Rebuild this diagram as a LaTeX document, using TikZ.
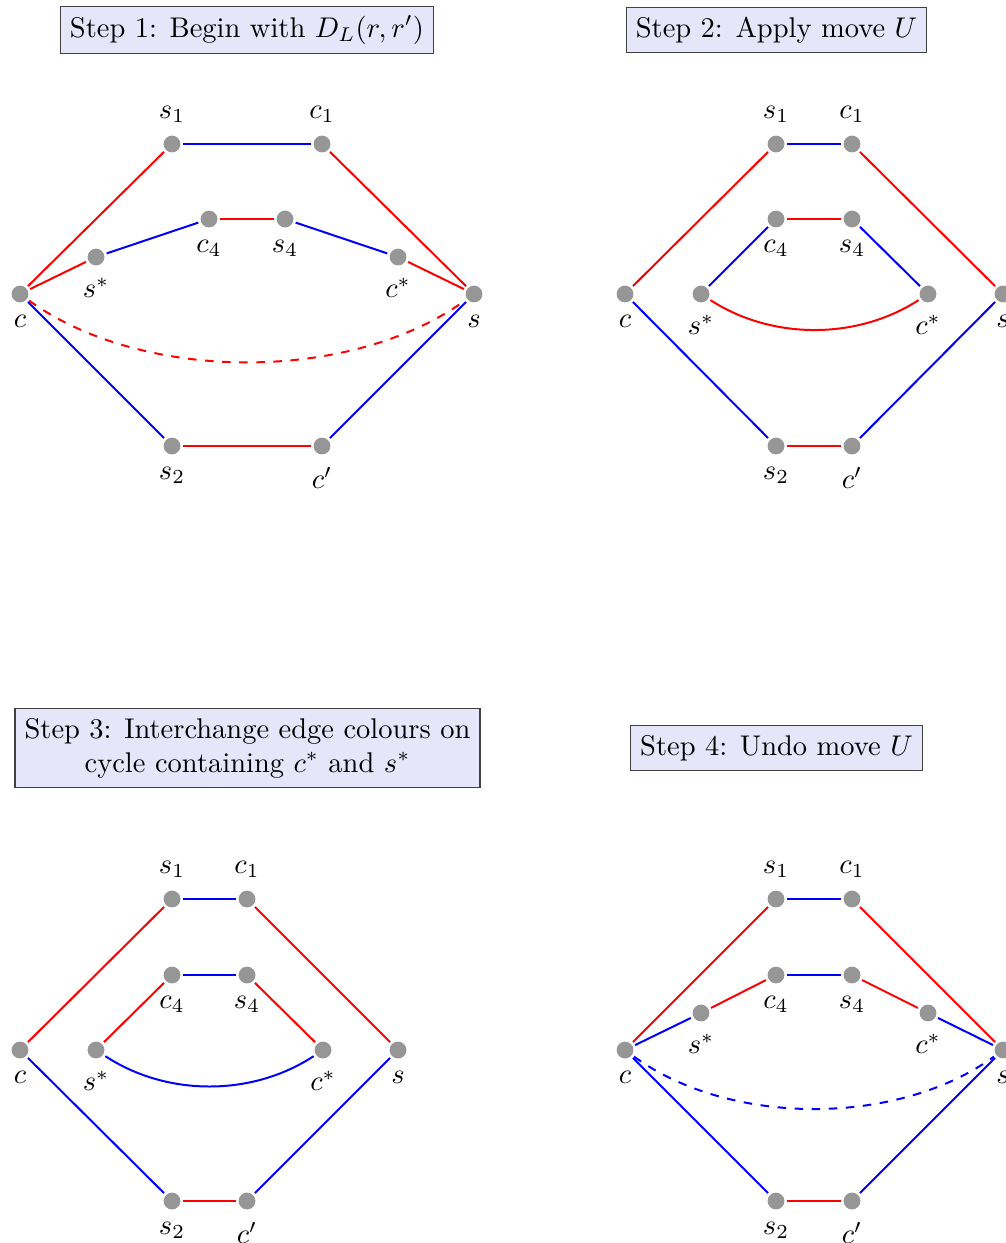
\documentclass[tikz,border=0pt]{standalone}
\usepackage{tikz}
\definecolor{nodegray}{RGB}{150,150,150}
\definecolor{titlefill}{RGB}{230,230,250}
\tikzset{
  dot/.style={circle, fill=nodegray, minimum size=5.9pt, inner sep=0pt, outer sep=1pt},
  re/.style={red, line width=0.7pt},
  bl/.style={blue, line width=0.7pt},
  titlebox/.style={draw=black!75, fill=titlefill, line width=0.5pt, align=center, font=\normalsize}
}
\begin{document}
\begin{tikzpicture}[x=0.351pt, y=-0.351pt]
\useasboundingbox (0,0) rectangle (1005,1243);

% ---------- Step 1 ----------
\node[titlebox] (t1) at (247,30) {Step 1: Begin with $D_L(r,r')$};
\node[dot, label=below:$c$]     (a-c)  at (20,294) {};
\node[dot, label=below:$s$]     (a-s)  at (474,294) {};
\node[dot, label=above:$s_1$]   (a-s1) at (172,144) {};
\node[dot, label=above:$c_1$]   (a-c1) at (322,144) {};
\node[dot, label=below:$s_2$]   (a-s2) at (172,446) {};
\node[dot, label=below:$c'$]    (a-cp) at (322,446) {};
\node[dot, label=below:$s^*$]   (a-ss) at (96,257) {};
\node[dot, label=below:$c_4$]   (a-c4) at (209,219) {};
\node[dot, label=below:$s_4$]   (a-s4) at (285,219) {};
\node[dot, label=below:$c^*$]   (a-cs) at (398,257) {};
\draw[re] (a-c) -- (a-s1);
\draw[bl] (a-s1) -- (a-c1);
\draw[re] (a-c1) -- (a-s);
\draw[re] (a-c) -- (a-ss);
\draw[bl] (a-ss) -- (a-c4);
\draw[re] (a-c4) -- (a-s4);
\draw[bl] (a-s4) -- (a-cs);
\draw[re] (a-cs) -- (a-s);
\draw[re, dashed] (a-c) .. controls (143,383) and (351,383) .. (a-s);
\draw[bl] (a-c) -- (a-s2);
\draw[re] (a-s2) -- (a-cp);
\draw[bl] (a-cp) -- (a-s);

% ---------- Step 2 ----------
\node[titlebox] (t2) at (776.5,30) {Step 2: Apply move $U$};
\node[dot, label=below:$c$]     (b-c)  at (625,294) {};
\node[dot, label=below:$s$]     (b-s)  at (1003,294) {};
\node[dot, label=above:$s_1$]   (b-s1) at (776,144) {};
\node[dot, label=above:$c_1$]   (b-c1) at (852,144) {};
\node[dot, label=below:$s_2$]   (b-s2) at (776,446) {};
\node[dot, label=below:$c'$]    (b-cp) at (852,446) {};
\node[dot, label=below:$s^*$]   (b-ss) at (701,294) {};
\node[dot, label=below:$c_4$]   (b-c4) at (776,219) {};
\node[dot, label=below:$s_4$]   (b-s4) at (852,219) {};
\node[dot, label=below:$c^*$]   (b-cs) at (928,294) {};
\draw[re] (b-c) -- (b-s1);
\draw[bl] (b-s1) -- (b-c1);
\draw[re] (b-c1) -- (b-s);
\draw[bl] (b-ss) -- (b-c4);
\draw[re] (b-c4) -- (b-s4);
\draw[bl] (b-s4) -- (b-cs);
\draw[re] (b-ss) .. controls (772,340) and (857,340) .. (b-cs);
\draw[bl] (b-c) -- (b-s2);
\draw[re] (b-s2) -- (b-cp);
\draw[bl] (b-cp) -- (b-s);

% ---------- Step 3 ----------
\node[titlebox] (t3) at (247.5,748) {Step 3: Interchange edge colours on\\cycle containing $c^*$ and $s^*$};
\node[dot, label=below:$c$]     (d-c)  at (20,1050) {};
\node[dot, label=below:$s$]     (d-s)  at (398,1050) {};
\node[dot, label=above:$s_1$]   (d-s1) at (172,899) {};
\node[dot, label=above:$c_1$]   (d-c1) at (247,899) {};
\node[dot, label=below:$s_2$]   (d-s2) at (172,1201) {};
\node[dot, label=below:$c'$]    (d-cp) at (247,1201) {};
\node[dot, label=below:$s^*$]   (d-ss) at (96,1050) {};
\node[dot, label=below:$c_4$]   (d-c4) at (172,975) {};
\node[dot, label=below:$s_4$]   (d-s4) at (247,975) {};
\node[dot, label=below:$c^*$]   (d-cs) at (323,1050) {};
\draw[re] (d-c) -- (d-s1);
\draw[bl] (d-s1) -- (d-c1);
\draw[re] (d-c1) -- (d-s);
\draw[re] (d-ss) -- (d-c4);
\draw[bl] (d-c4) -- (d-s4);
\draw[re] (d-s4) -- (d-cs);
\draw[bl] (d-ss) .. controls (167,1096.6) and (252,1096.6) .. (d-cs);
\draw[bl] (d-c) -- (d-s2);
\draw[re] (d-s2) -- (d-cp);
\draw[bl] (d-cp) -- (d-s);

% ---------- Step 4 ----------
\node[titlebox] (t4) at (776.5,748) {Step 4: Undo move $U$};
\node[dot, label=below:$c$]     (e-c)  at (625,1050) {};
\node[dot, label=below:$s$]     (e-s)  at (1003,1050) {};
\node[dot, label=above:$s_1$]   (e-s1) at (776,899) {};
\node[dot, label=above:$c_1$]   (e-c1) at (852,899) {};
\node[dot, label=below:$s_2$]   (e-s2) at (776,1201) {};
\node[dot, label=below:$c'$]    (e-cp) at (852,1201) {};
\node[dot, label=below:$s^*$]   (e-ss) at (701,1013) {};
\node[dot, label=below:$c_4$]   (e-c4) at (776,975) {};
\node[dot, label=below:$s_4$]   (e-s4) at (852,975) {};
\node[dot, label=below:$c^*$]   (e-cs) at (928,1013) {};
\draw[re] (e-c) -- (e-s1);
\draw[bl] (e-s1) -- (e-c1);
\draw[re] (e-c1) -- (e-s);
\draw[bl] (e-c) -- (e-ss);
\draw[re] (e-ss) -- (e-c4);
\draw[bl] (e-c4) -- (e-s4);
\draw[re] (e-s4) -- (e-cs);
\draw[bl] (e-cs) -- (e-s);
\draw[bl, dashed] (e-c) .. controls (730,1126.5) and (898,1126.5) .. (e-s);
\draw[bl] (e-c) -- (e-s2);
\draw[re] (e-s2) -- (e-cp);
\draw[bl] (e-cp) -- (e-s);
\end{tikzpicture}
\end{document}
